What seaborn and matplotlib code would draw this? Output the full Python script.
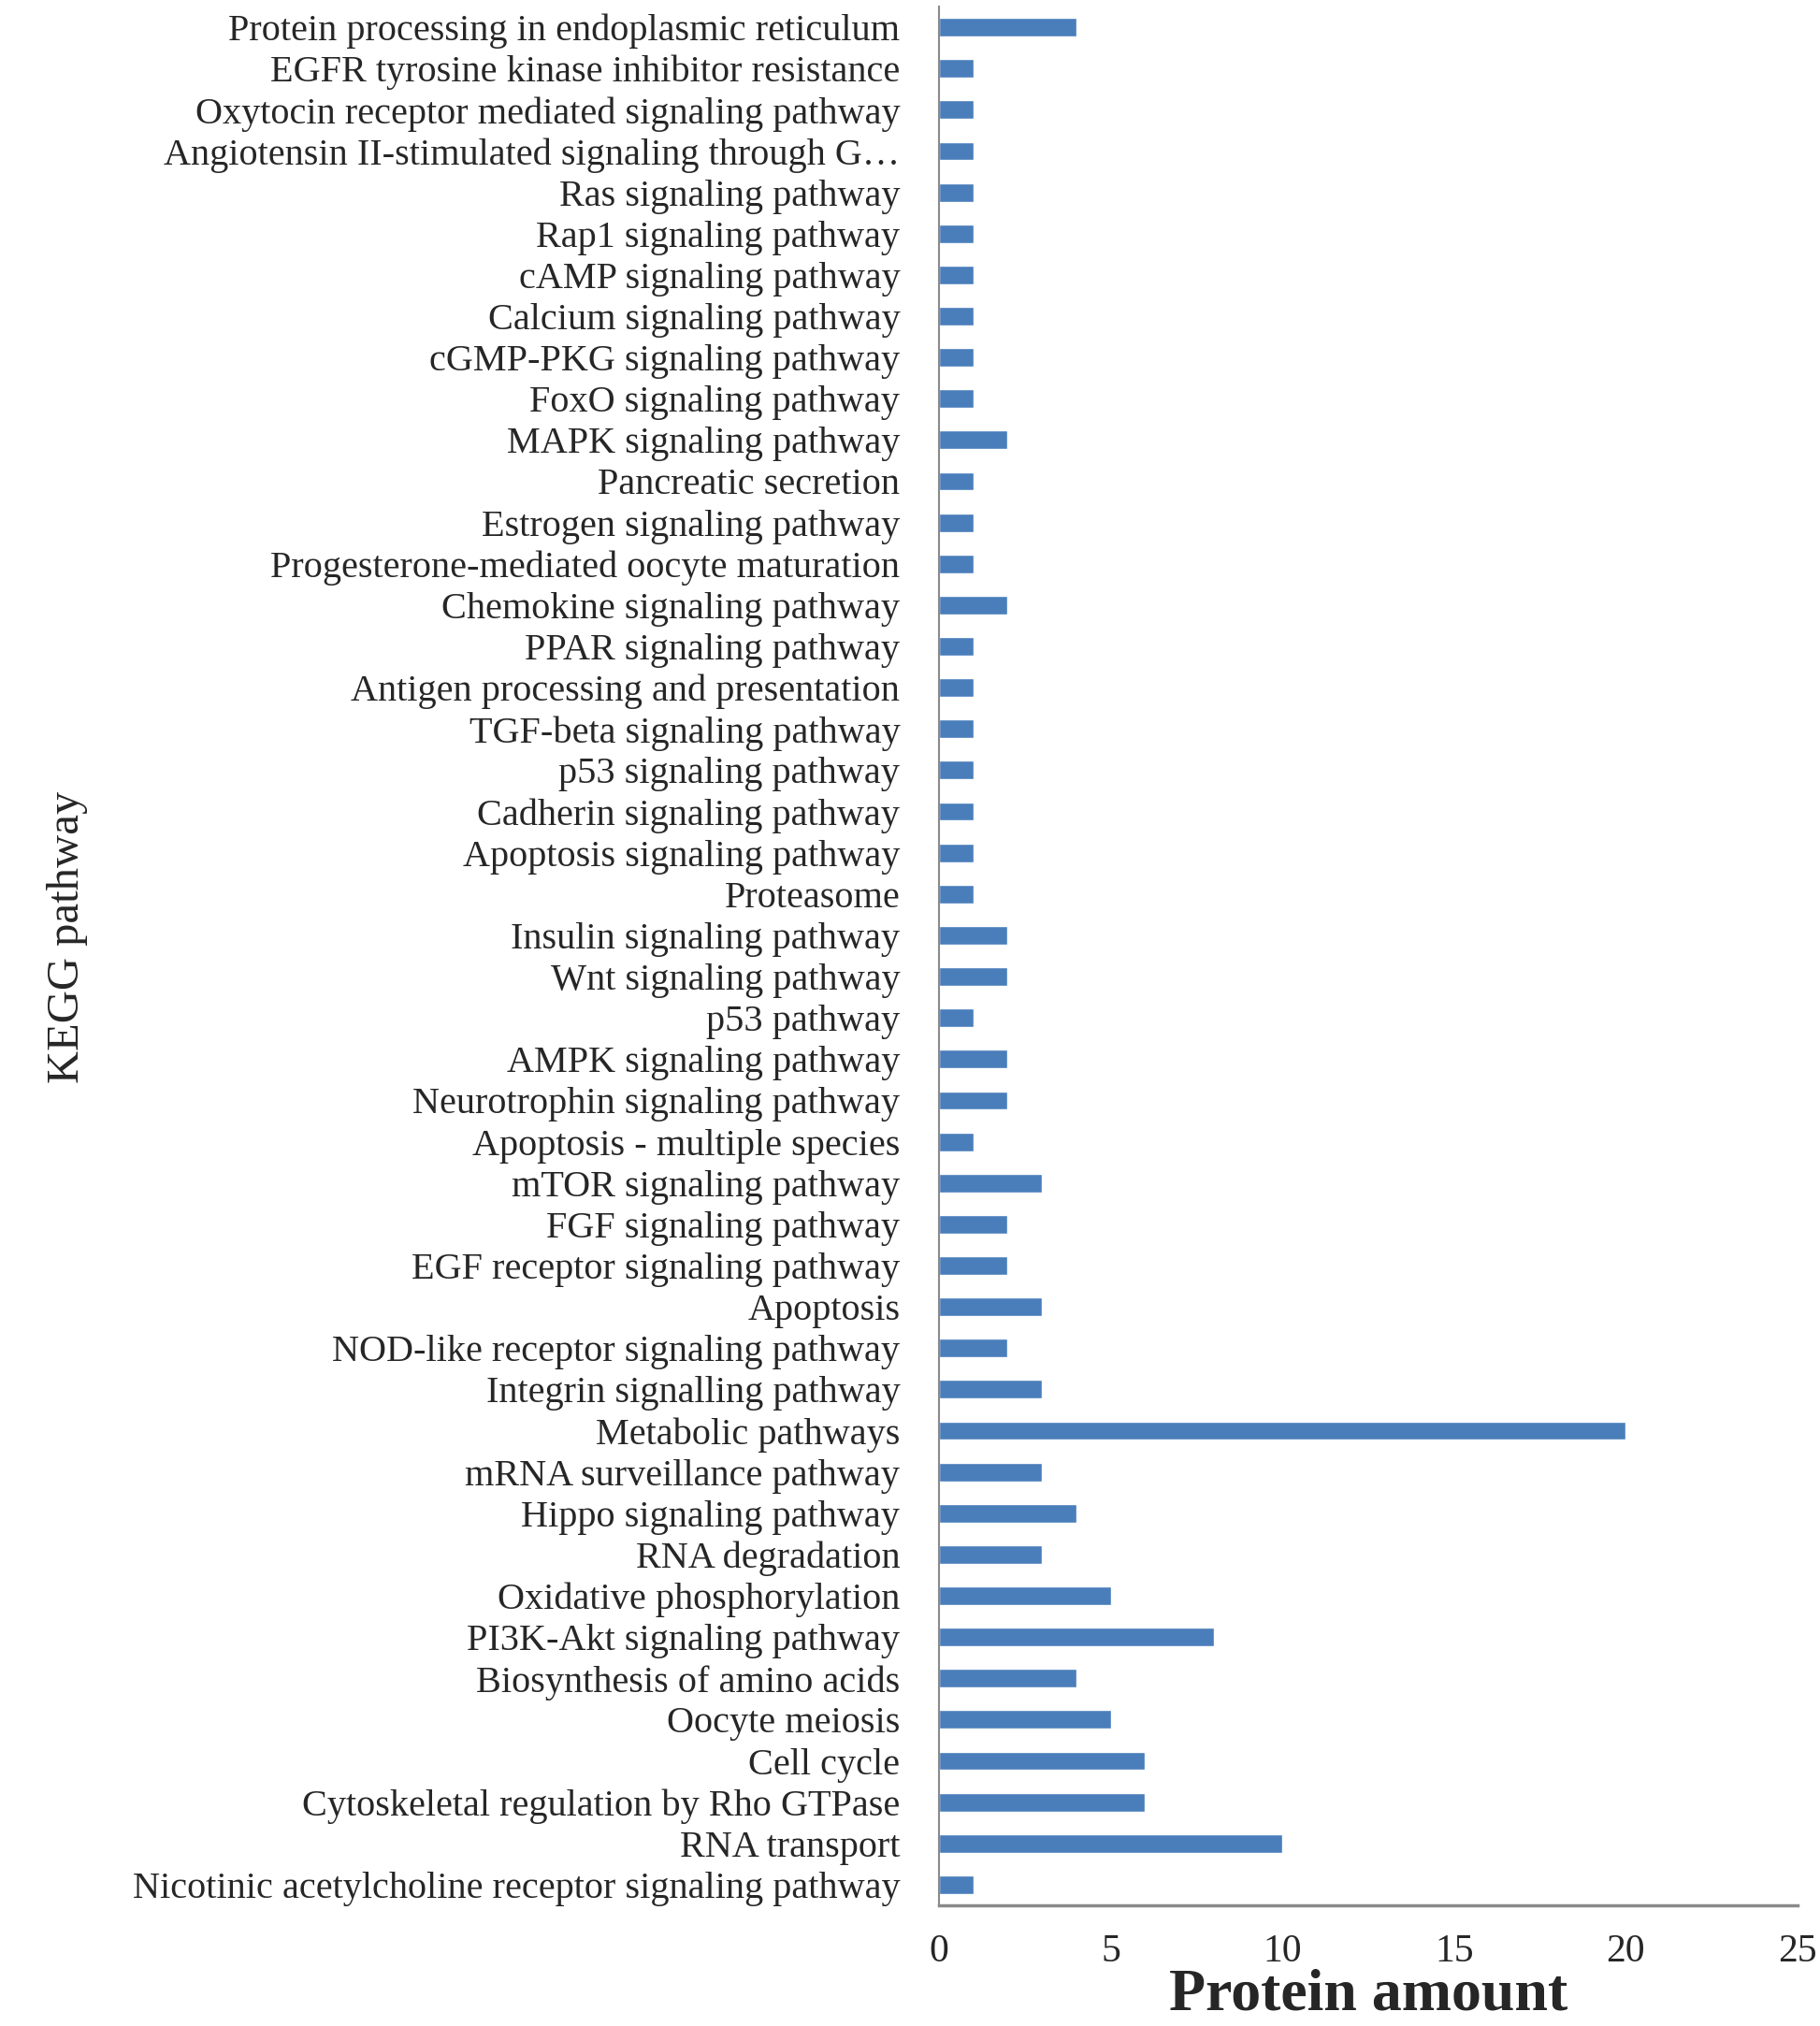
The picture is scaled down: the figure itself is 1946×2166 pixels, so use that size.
import matplotlib
matplotlib.use("Agg")
import matplotlib.pyplot as plt
import seaborn as sns
import pandas as pd
import numpy as np

pathways = [
    "Protein processing in endoplasmic reticulum",
    "EGFR tyrosine kinase inhibitor resistance",
    "Oxytocin receptor mediated signaling pathway",
    "Angiotensin II-stimulated signaling through G…",
    "Ras signaling pathway",
    "Rap1 signaling pathway",
    "cAMP signaling pathway",
    "Calcium signaling pathway",
    "cGMP-PKG signaling pathway",
    "FoxO signaling pathway",
    "MAPK signaling pathway",
    "Pancreatic secretion",
    "Estrogen signaling pathway",
    "Progesterone-mediated oocyte maturation",
    "Chemokine signaling pathway",
    "PPAR signaling pathway",
    "Antigen processing and presentation",
    "TGF-beta signaling pathway",
    "p53 signaling pathway",
    "Cadherin signaling pathway",
    "Apoptosis signaling pathway",
    "Proteasome",
    "Insulin signaling pathway",
    "Wnt signaling pathway",
    "p53 pathway",
    "AMPK signaling pathway",
    "Neurotrophin signaling pathway",
    "Apoptosis - multiple species",
    "mTOR signaling pathway",
    "FGF signaling pathway",
    "EGF receptor signaling pathway",
    "Apoptosis",
    "NOD-like receptor signaling pathway",
    "Integrin signalling pathway",
    "Metabolic pathways",
    "mRNA surveillance pathway",
    "Hippo signaling pathway",
    "RNA degradation",
    "Oxidative phosphorylation",
    "PI3K-Akt signaling pathway",
    "Biosynthesis of amino acids",
    "Oocyte meiosis",
    "Cell cycle",
    "Cytoskeletal regulation by Rho GTPase",
    "RNA transport",
    "Nicotinic acetylcholine receptor signaling pathway",
]
protein_amount = [4, 1, 1, 1, 1, 1, 1, 1, 1, 1, 2, 1, 1, 1, 2, 1, 1, 1, 1, 1, 1, 1,
                  2, 2, 1, 2, 2, 1, 3, 2, 2, 3, 2, 3, 20, 3, 4, 3, 5, 8, 4, 5, 6, 6, 10, 1]
x_ticks = [0, 5, 10, 15, 20, 25]

df = pd.DataFrame({"pathway": pathways, "amount": protein_amount})

sns.set_style("white")
plt.rcParams["font.family"] = ["Liberation Serif", "DejaVu Serif"]

fig = plt.figure(figsize=(19.46, 21.66), dpi=100)
ax = fig.add_axes([1004/1946, 1 - 2037/2166, 918/1946, 2030/2166])

sns.barplot(data=df, x="amount", y="pathway", orient="h", color="#4A7EBB",
            saturation=1, width=0.45, ax=ax)

ax.set_xlim(0, 25)
ax.set_ylim(len(pathways) - 0.5, -0.5)
ax.set_xticks(x_ticks)
ax.set_xticklabels([str(t) for t in x_ticks], fontsize=30)
ax.tick_params(axis="x", direction="out", length=10, width=1.5, color="#8a8a8a", pad=12)
ax.tick_params(axis="y", which="major", length=0, pad=30, labelsize=29)
ax.set_yticks(np.arange(-0.5, len(pathways), 1.0), minor=True)
ax.tick_params(axis="y", which="minor", length=6, width=1, color="#b0b0b0", direction="out")

for s in ["top", "right"]:
    ax.spines[s].set_visible(False)
ax.spines["left"].set_color("#8a8a8a")
ax.spines["left"].set_linewidth(1.5)
ax.spines["bottom"].set_color("#8a8a8a")
ax.spines["bottom"].set_linewidth(2.5)

ax.set_xlabel("Protein amount", fontsize=46, fontweight="bold")
ax.set_ylabel("KEGG pathway", fontsize=35)
ax.xaxis.set_label_coords(0.5, -0.0475)
ax.yaxis.set_label_coords(-1.015, 0.51)
ax.xaxis.label.set_va("center")
ax.yaxis.label.set_va("center")

fig.savefig("out.png", dpi=100)
